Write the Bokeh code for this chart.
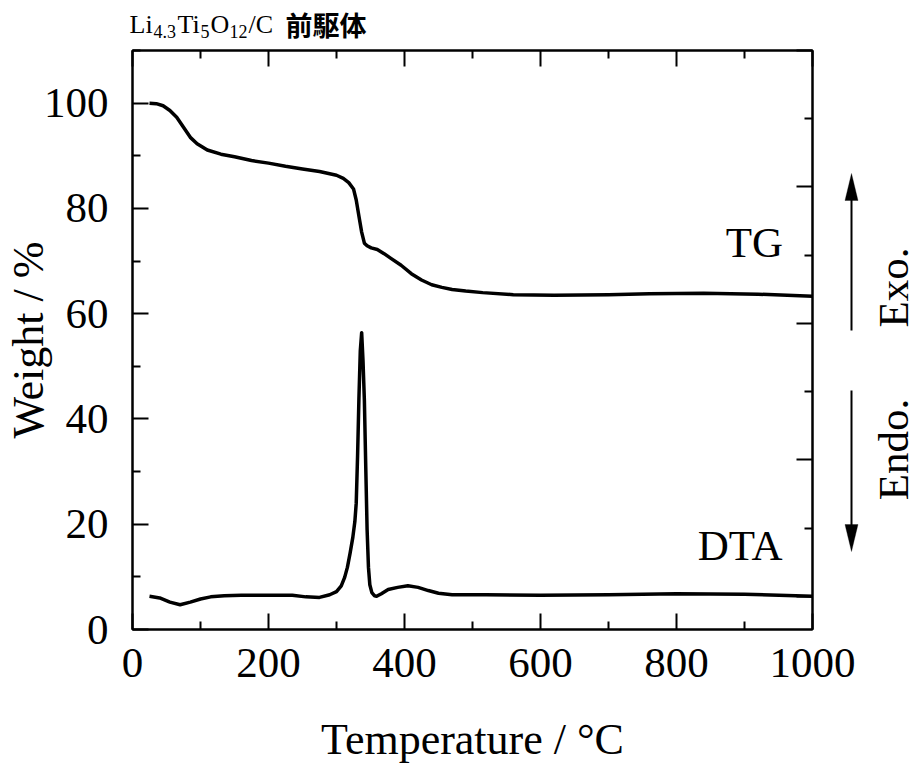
from bokeh.plotting import figure
from bokeh.models import (Range1d, LinearAxis, FixedTicker, Label, Arrow, GridBox,
                          PolyAnnotation, CustomLabelingPolicy)
from bokeh.embed import file_html
from bokeh.resources import INLINE

# ---------------- data ----------------
tg_temp = [25, 35, 45, 55, 65, 75, 85, 95, 110, 130, 150, 175, 200, 225, 250, 275,
           300, 310, 318, 325, 329, 333, 337, 341, 345, 351, 360, 370, 380, 395,
           410, 425, 440, 455, 470, 490, 515, 560, 620, 700, 760, 840, 920, 1000]
tg_weight = [100.0, 99.9, 99.5, 98.6, 97.3, 95.4, 93.5, 92.3, 91.1, 90.3, 89.8, 89.1,
             88.6, 88.0, 87.5, 87.0, 86.3, 85.7, 84.9, 83.7, 81.6, 78.5, 75.5, 73.4,
             72.9, 72.5, 72.2, 71.4, 70.5, 69.2, 67.6, 66.4, 65.5, 65.0, 64.6, 64.3,
             64.0, 63.6, 63.5, 63.6, 63.8, 63.9, 63.7, 63.3]

dta_temp = [25, 40, 55, 70, 85, 100, 115, 135, 160, 200, 235, 255, 275, 290, 300,
            307, 312, 316, 320, 324, 327, 329, 331, 333, 335, 337, 339, 341, 343,
            345, 347, 349, 352, 356, 359, 366, 376, 390, 405, 420, 435, 450, 470,
            520, 600, 700, 800, 900, 1000]
dta_signal = [6.3, 6.0, 5.2, 4.7, 5.2, 5.8, 6.2, 6.4, 6.5, 6.5, 6.5, 6.2, 6.1, 6.6,
              7.2, 8.3, 9.9, 11.8, 14.5, 17.5, 20.5, 24.0, 33.0, 44.0, 53.0, 56.4,
              51.0, 43.5, 31.0, 19.0, 11.8, 8.5, 7.0, 6.4, 6.3, 6.8, 7.6, 8.0, 8.3,
              8.0, 7.4, 6.9, 6.6, 6.6, 6.5, 6.6, 6.8, 6.7, 6.3]

x_major = [0, 200, 400, 600, 800, 1000]
x_minor = [100, 300, 500, 700, 900]
y_major = [0, 20, 40, 60, 80, 100]
y_minor = [10, 30, 50, 70, 90, 110]
dta_major = [0, 20, 40, 60, 80]
dta_minor = [10, 30, 50, 70]

# ---------------- layout constants ----------------
W, H = 915, 769
FL, FR, FT, FB = 131, 812, 50, 629

SERIF = "Liberation Serif"
CJK = "Noto Sans CJK JP"

# ---------------- main plot ----------------
p = figure(width=W, height=H,
           x_range=Range1d(0, 1000), y_range=Range1d(0, 110),
           output_backend="svg", toolbar_location=None,
           min_border_left=FL, min_border_right=W - FR,
           min_border_top=FT, min_border_bottom=H - FB)
p.extra_y_ranges = {"dta": Range1d(-4.84, 80)}
p.xgrid.visible = False
p.ygrid.visible = False
p.outline_line_color = "black"
p.outline_line_width = 2
p.background_fill_color = "white"
p.border_fill_color = "white"

hide_labels = CustomLabelingPolicy(
    code="const all = [...indices]; for (const i of all) indices.unset(i); return indices")


def style(ax, major, minor):
    ax.ticker = FixedTicker(ticks=major, minor_ticks=minor)
    ax.axis_line_color = "black"
    ax.axis_line_width = 2
    ax.major_tick_in = 16
    ax.major_tick_out = 0
    ax.minor_tick_in = 8
    ax.minor_tick_out = 0
    ax.major_tick_line_width = 2
    ax.minor_tick_line_width = 2
    ax.major_tick_line_color = "black"
    ax.minor_tick_line_color = "black"
    ax.major_label_text_font = SERIF
    ax.major_label_text_font_size = "43px"
    ax.major_label_text_color = "black"
    ax.axis_label_text_font = SERIF
    ax.axis_label_text_font_size = "44px"
    ax.axis_label_text_font_style = "normal"
    ax.axis_label_text_color = "black"


def mute(ax):
    ax.major_label_policy = hide_labels
    ax.major_label_text_font_size = "1px"
    ax.major_label_standoff = 0


xa = p.xaxis[0]
style(xa, x_major, x_minor)
xa.axis_label = "Temperature / °C"
xa.major_label_standoff = 19
xa.axis_label_standoff = 35

ya = p.yaxis[0]
style(ya, y_major, y_minor)
ya.axis_label = "Weight / %"
ya.major_label_standoff = 24
ya.axis_label_standoff = -12

top = LinearAxis()
style(top, x_major, x_minor)
mute(top)
p.add_layout(top, "above")

right = LinearAxis(y_range_name="dta")
style(right, dta_major, dta_minor)
mute(right)
p.add_layout(right, "right")

p.line(tg_temp, tg_weight, line_color="black", line_width=3.5, line_join="round")
p.line(dta_temp, dta_signal, line_color="black", line_width=3.5, line_join="round")

p.add_layout(Label(x=(725 - FL) / (FR - FL) * 1000, y=(FB - 257 + 15) / (FB - FT) * 110,
                   text="TG", text_font=SERIF, text_font_size="43px",
                   text_color="black", text_baseline="alphabetic"))
p.add_layout(Label(x=(697 - FL) / (FR - FL) * 1000, y=(FB - 560 + 15) / (FB - FT) * 110,
                   text="DTA", text_font=SERIF, text_font_size="43px",
                   text_color="black", text_baseline="alphabetic"))

# ---------------- transparent overlay (page-pixel coordinates) ----------------
q = figure(width=W, height=H, x_range=Range1d(0, W), y_range=Range1d(H, 0),
           x_axis_type=None, y_axis_type=None, output_backend="svg",
           toolbar_location=None, min_border=0)
q.frame_align = False
q.outline_line_color = None
q.grid.visible = False
q.background_fill_alpha = 0
q.border_fill_alpha = 0


def lab(text, px, py, size, font=SERIF, style="normal", align="left", angle=0.0):
    # (px, py): desired alphabetic-baseline anchor in page pixels
    off = 0.35 * size
    if angle:
        px = px - off
    else:
        py = py - off
    q.add_layout(Label(x=px, y=py, text=text, text_font=font,
                       text_font_size=f"{size}px", text_font_style=style,
                       text_color="black", text_align=align,
                       text_baseline="alphabetic", angle=angle))


# title: Li4.3Ti5O12/C 前駆体
lab("Li", 129, 33, 26)
lab("4.3", 153, 37, 18)
lab("Ti", 177, 33, 26)
lab("5", 200, 37, 18)
lab("O", 210, 33, 26)
lab("12", 229, 37, 18)
lab("/C", 248, 33, 26)
lab("前駆体", 285, 33, 27, font=CJK, style="bold")

# Exo. / Endo.
lab("Exo.", 908, 287, 43, align="center", angle=1.5708)
lab("Endo.", 908, 449, 43, align="center", angle=1.5708)

AX = 851
q.add_layout(Arrow(x_start=AX, y_start=330, x_end=AX, y_end=196,
                   end=None, line_color="black", line_width=2))
q.add_layout(PolyAnnotation(xs=[AX, AX - 6.5, AX + 6.5], ys=[173, 200, 200],
                            fill_color="black", fill_alpha=1, line_color="black",
                            line_width=1))
q.add_layout(Arrow(x_start=AX, y_start=390, x_end=AX, y_end=528,
                   end=None, line_color="black", line_width=2))
q.add_layout(PolyAnnotation(xs=[AX, AX - 6.5, AX + 6.5], ys=[551, 524, 524],
                            fill_color="black", fill_alpha=1, line_color="black",
                            line_width=1))

layout = GridBox(children=[(p, 0, 0), (q, 0, 0)])
open("out.html", "w").write(file_html(layout, INLINE))
